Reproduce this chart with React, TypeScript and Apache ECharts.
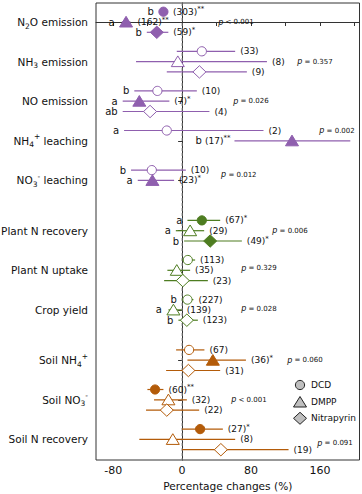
import React, { useEffect, useRef } from 'react';
import * as echarts from 'echarts';

// ---------- data ----------
const groupLabels = [
  'N{sub|2}O emission',
  'NH{sub|3} emission',
  'NO emission',
  'NH{sub|4}{sup|+} leaching',
  'NO{sub|3}{sup|-} leaching',
  'Plant N recovery',
  'Plant N uptake',
  'Crop yield',
  'Soil NH{sub|4}{sup|+}',
  'Soil NO{sub|3}{sup|-}',
  'Soil N recovery',
];
const groupFamily = [0, 0, 0, 0, 0, 1, 1, 1, 2, 2, 2];
const treatments = ['DCD', 'DMPP', 'Nitrapyrin'];

// DCD (circle)
const dcdMean = [-21.7, 22.9, -28.7, -17.8, -35.2, 22.9, 6.6, 6.2, 8.1, -31.4, 20.9];
const dcdLow = [-25, -6.2, -55.5, -67.4, -59.3, 6.2, -0.3, -0.3, -7, -40.3, -0.3];
const dcdHigh = [-18, 61.6, 17.1, 94.5, 4.3, 44.2, 15.1, 13.1, 25.9, -21.7, 47.3];
const dcdN = [303, 33, 10, 2, 10, 67, 113, 227, 67, 60, 27];
const dcdSig = ['**', '', '', '', '', '*', '', '', '', '**', '*'];
const dcdLetter = ['b', '', 'b', 'a', 'b', 'a', '', 'b', '', '', ''];

// DMPP (triangle)
const dmppMean = [-65.1, -5, -49.7, 127.6, -34.5, 9.3, -6.2, -10.1, 35.7, -15.9, -10.8];
const dmppLow = [-70, -53.5, -69, 60.8, -51.5, -7.3, -17.1, -15.9, 6.2, -32.6, -49.7];
const dmppHigh = [-60, 98.5, -14.8, 195.3, -9.3, 25.6, 9.3, -0.3, 74.1, 5.5, 61.6];
const dmppN = [162, 8, 7, 17, 23, 29, 35, 139, 36, 32, 8];
const dmppSig = ['**', '', '*', '**', '*', '', '', '', '*', '', ''];
const dmppLetter = ['a', '', 'a', 'b', 'a', 'a', '', 'a', '', '', ''];

// Nitrapyrin (diamond)
const nitMean = [-29.4, 20.1, -37.2, null, null, 32.6, 0.8, 5.5, 7.3, -17.8, 45];
const nitLow = [-41, -17.8, -69, null, null, 2.3, -20.9, -4.3, -18.6, -41.9, -0.3];
const nitHigh = [-16, 75.2, 31.7, null, null, 69.4, 29.9, 18.3, 44.2, 19.8, 123.6];
const nitN = [59, 9, 4, null, null, 49, 23, 123, 31, 22, 19];
const nitSig = ['*', '', '', '', '', '*', '', '', '', '', ''];
const nitLetter = ['b', '', 'ab', '', '', 'b', '', 'b', '', '', ''];

const pTexts = [
  'p < 0.001', 'p = 0.357', 'p = 0.026', 'p = 0.002', 'p = 0.012',
  'p = 0.006', 'p = 0.329', 'p = 0.028', 'p = 0.060', 'p < 0.001', 'p = 0.091',
];

const xTicks = [-80, -40, 0, 40, 80, 120, 160, 200];
const xTickLabels = [-80, 0, 80, 160];

// ---------- layout ----------
const groupPos = [0, 1, 2, 3, 4, 5.27, 6.27, 7.27, 8.54, 9.54, 10.54];
const rowOffset = [-0.26, 0, 0.26];
const pLayoutX = [41.9, 133.7, 59.3, 159.3, 45.3, 104.7, 68.6, 68.6, 122, 57, 157];
const pLayoutDy = [0, 0, 0, -0.26, -0.14, 0, -0.05, -0.03, 0, 0, 0.1];
const familyColors = ['#8f5fae', '#4e7d21', '#b35b09'];
const FONT = 'DejaVu Sans';

type Row = { g: number; t: number; mean: number; low: number; high: number; n: number; sig: string; letter: string };

const rows: Row[] = [];
const sets = [
  [dcdMean, dcdLow, dcdHigh, dcdN, dcdSig, dcdLetter],
  [dmppMean, dmppLow, dmppHigh, dmppN, dmppSig, dmppLetter],
  [nitMean, nitLow, nitHigh, nitN, nitSig, nitLetter],
] as any[];
for (let g = 0; g < groupLabels.length; g++) {
  for (let t = 0; t < 3; t++) {
    const s = sets[t];
    if (s[0][g] == null) continue;
    rows.push({ g, t, mean: s[0][g], low: s[1][g], high: s[2][g], n: s[3][g], sig: s[4][g], letter: s[5][g] });
  }
}

const Y_MIN = -0.48;
const Y_MAX = 11.06;

export default function App() {
  const ref = useRef<HTMLDivElement>(null);
  useEffect(() => {
    if (!ref.current) return;
    const chart = echarts.init(ref.current, undefined, { renderer: 'svg' });

    const richN = {
      n: { fontSize: 9, fontFamily: FONT, fill: '#111', lineHeight: 12 },
      s: { fontSize: 7, fontFamily: FONT, fill: '#111', verticalAlign: 'top', lineHeight: 7 },
      l: { fontSize: 10, fontFamily: FONT, fill: '#111', lineHeight: 12 },
    };

    const option: any = {
      animation: false,
      backgroundColor: '#fff',
      grid: { left: 96, right: 2.5, top: 3, bottom: 34, show: true, borderColor: '#333', borderWidth: 1, containLabel: false, outerBoundsMode: 'none' },
      xAxis: {
        type: 'value',
        min: -100,
        max: 206,
        splitLine: { show: false },
        axisLine: { show: true, lineStyle: { color: '#333', width: 1 } },
        axisTick: { show: true, customValues: xTicks, length: 4, lineStyle: { color: '#333' } },
        axisLabel: { customValues: xTickLabels, color: '#111', fontFamily: FONT, fontSize: 11, margin: 5 },
        name: 'Percentage changes (%)',
        nameLocation: 'middle',
        nameGap: 18,
        nameTextStyle: { color: '#111', fontFamily: FONT, fontSize: 10.6 },
      },
      yAxis: {
        type: 'value',
        inverse: true,
        min: Y_MIN,
        max: Y_MAX,
        splitLine: { show: false },
        axisLine: { show: true, lineStyle: { color: '#333', width: 1 } },
        axisTick: { show: true, customValues: groupPos, length: 4, lineStyle: { color: '#333' } },
        axisLabel: {
          customValues: groupPos,
          margin: 8,
          color: '#111',
          fontFamily: FONT,
          fontSize: 10.5,
          lineHeight: 16,
          formatter: (v: number) => {
            const i = groupPos.findIndex((p) => Math.abs(p - v) < 1e-6);
            return i >= 0 ? groupLabels[i] : '';
          },
          rich: {
            sub: { fontSize: 7.5, fontFamily: FONT, color: '#111', verticalAlign: 'bottom', lineHeight: 8 },
            sup: { fontSize: 7.5, fontFamily: FONT, color: '#111', verticalAlign: 'top', lineHeight: 8 },
          },
        },
      },
      series: [
        {
          type: 'line',
          data: [[0, Y_MIN], [0, Y_MAX]],
          symbol: 'none',
          silent: true,
          lineStyle: { color: '#808080', width: 1, type: [3, 2] },
          z: 1,
        },
        {
          type: 'custom',
          clip: false,
          z: 5,
          encode: { x: [0, 2, 3], y: 1 },
          data: rows.map((r, i) => [r.mean, groupPos[r.g] + rowOffset[r.t], r.low, r.high, i]),
          renderItem: (params: any, api: any) => {
            const idx = api.value(4) as number;
            const r = rows[idx];
            const color = familyColors[groupFamily[r.g]];
            const yv = api.value(1);
            const [cx, cy] = api.coord([api.value(0), yv]);
            const xl = api.coord([api.value(2), yv])[0];
            const xh = api.coord([api.value(3), yv])[0];
            const hw = r.t === 0 ? 4.6 : 6.5;
            const filled = r.sig !== '';
            const mstyle = { fill: filled ? color : '#fff', stroke: color, lineWidth: 1 };
            let marker: any;
            if (r.t === 0) {
              marker = { type: 'circle', shape: { cx, cy, r: 4.6 }, style: mstyle };
            } else if (r.t === 1) {
              marker = { type: 'polygon', shape: { points: [[cx - 6.5, cy + 5], [cx + 6.5, cy + 5], [cx, cy - 5.7]] }, style: mstyle };
            } else {
              marker = { type: 'polygon', shape: { points: [[cx - 6.5, cy], [cx, cy - 6.2], [cx + 6.5, cy], [cx, cy + 6.2]] }, style: mstyle };
            }
            const left = Math.min(xl, cx - hw);
            const right = Math.max(xh, cx + hw);
            const nStr = `{n|(${r.n})}` + (r.sig ? `{s|${r.sig}}` : '');
            const plotRight = params.coordSys.x + params.coordSys.width;
            const nOnLeft = right + 5 + 28 > plotRight;
            const children: any[] = [
              { type: 'line', shape: { x1: xl, y1: cy, x2: xh, y2: cy }, style: { stroke: color, lineWidth: 1.2 } },
              marker,
            ];
            if (nOnLeft) {
              const txt = (r.letter ? `{l|${r.letter}}{l| }` : '') + nStr;
              children.push({ type: 'text', x: left - 4, y: cy, style: { text: txt, rich: richN, align: 'right', verticalAlign: 'middle', fontFamily: FONT, fontSize: 9, fill: '#111' } });
            } else {
              children.push({ type: 'text', x: right + 5, y: cy, style: { text: nStr, rich: richN, align: 'left', verticalAlign: 'middle', fontFamily: FONT, fontSize: 9, fill: '#111' } });
              if (r.letter) {
                children.push({ type: 'text', x: left - 5, y: cy, style: { text: r.letter, align: 'right', verticalAlign: 'middle', fontFamily: FONT, fontSize: 10, fill: '#111' } });
              }
            }
            return { type: 'group', children };
          },
        },
        {
          type: 'custom',
          clip: false,
          z: 6,
          encode: { x: 0, y: 1 },
          data: pTexts.map((_, g) => [pLayoutX[g], groupPos[g] + pLayoutDy[g], g]),
          renderItem: (params: any, api: any) => {
            const g = api.value(2) as number;
            const [x, y] = api.coord([api.value(0), api.value(1)]);
            const txt = pTexts[g].replace(/^p/, '{i|p}');
            return {
              type: 'text',
              x,
              y,
              style: {
                text: txt,
                align: 'left',
                verticalAlign: 'middle',
                fontFamily: FONT,
                fontSize: 7,
                fill: '#111',
                rich: { i: { fontStyle: 'italic', fontFamily: FONT, fontSize: 8, fill: '#111' } },
              },
            };
          },
        },
      ],
      graphic: [
        { type: 'circle', shape: { cx: 300, cy: 385, r: 4.6 }, style: { fill: '#bfbfbf', stroke: '#222', lineWidth: 1 } },
        { type: 'polygon', shape: { points: [[293.5, 407], [306.5, 407], [300, 396.5]] }, style: { fill: '#bfbfbf', stroke: '#222', lineWidth: 1 } },
        { type: 'polygon', shape: { points: [[293.5, 418.3], [300, 412.3], [306.5, 418.3], [300, 424.3]] }, style: { fill: '#bfbfbf', stroke: '#222', lineWidth: 1 } },
        { type: 'text', x: 311, y: 385, style: { text: treatments[0], fontFamily: FONT, fontSize: 9, fill: '#111', verticalAlign: 'middle' } },
        { type: 'text', x: 311, y: 402, style: { text: treatments[1], fontFamily: FONT, fontSize: 9, fill: '#111', verticalAlign: 'middle' } },
        { type: 'text', x: 311, y: 418.3, style: { text: treatments[2], fontFamily: FONT, fontSize: 9, fill: '#111', verticalAlign: 'middle' } },
      ],
    };
    chart.setOption(option);
    return () => chart.dispose();
  }, []);
  return <div ref={ref} style={{ position: 'fixed', left: 0, top: 0, width: 362, height: 494 }} />;
}
